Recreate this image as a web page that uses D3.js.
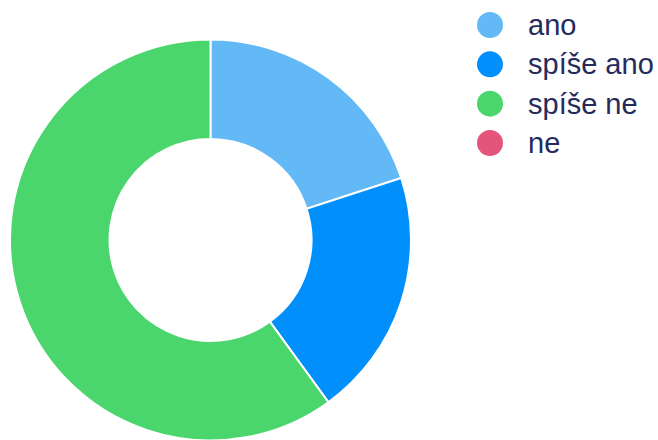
<!DOCTYPE html>
<html>
<head>
<meta charset="utf-8">
<script src="https://cdn.jsdelivr.net/npm/d3@7"></script>
<style>
  body { margin: 0; background: #fff; }
  svg { display: block; }
</style>
</head>
<body>
<script>
  // chart data
  var labels = ['ano', 'spíše ano', 'spíše ne', 'ne'];
  var values = [1, 1, 3, 0];
  var colors = ['#63b9f5', '#008ffb', '#4ad66d', '#e5557a'];

  var w = 658;
  var h = 440;
  var cx = 210.5;
  var cy = 240;
  var outerR = 200.5;
  var innerR = 101;

  var svg = d3.select('body')
    .append('svg')
    .attr('width', w)
    .attr('height', h);

  var pie = d3.pie()
    .sort(null)
    .value(function(d) { return d; });

  var arc = d3.arc()
    .innerRadius(innerR)
    .outerRadius(outerR);

  var color = d3.scaleOrdinal()
    .domain(labels)
    .range(colors);

  //Draw slices
  svg.append('g')
    .attr('transform', 'translate(' + cx + ',' + cy + ')')
    .selectAll('path')
    .data(pie(values).filter(function(d) { return d.value > 0; }))
    .enter()
    .append('path')
    .attr('d', arc)
    .attr('fill', function(d) { return color(labels[d.index]); })
    .attr('stroke', '#fff')
    .attr('stroke-width', 2);

  //Legend
  var legendY = d3.scalePoint()
    .domain(labels)
    .range([25, 143]);

  var legend = svg.append('g')
    .selectAll('g')
    .data(labels)
    .enter()
    .append('g')
    .attr('transform', function(d) { return 'translate(490,' + legendY(d) + ')'; });

  legend.append('circle')
    .attr('r', 13)
    .attr('fill', function(d) { return color(d); });

  legend.append('text')
    .attr('x', 38)
    .attr('dy', '0.35em')
    .attr('font-family', 'Arial, "Liberation Sans", sans-serif')
    .attr('font-size', '29px')
    .attr('fill', '#262a5c')
    .text(function(d) { return d; });
</script>
</body>
</html>
